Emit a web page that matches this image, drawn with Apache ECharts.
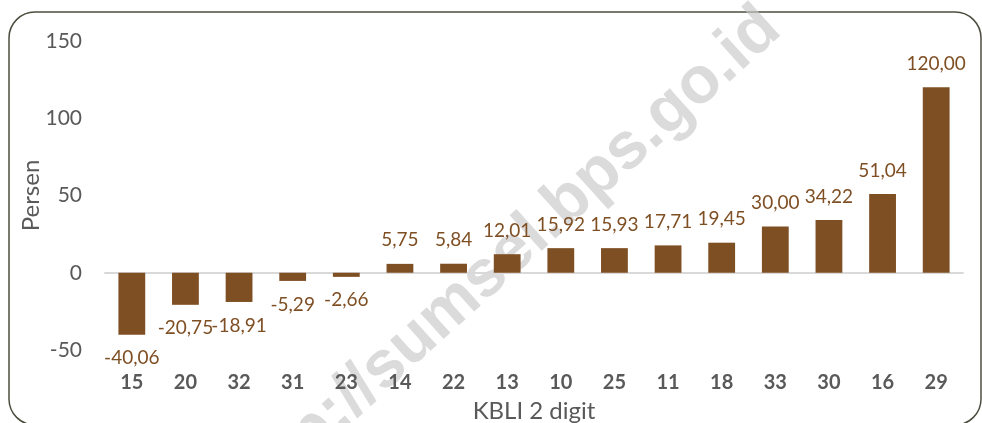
<!DOCTYPE html>
<html><head><meta charset="utf-8">
<script src="https://cdn.jsdelivr.net/npm/echarts@6/dist/echarts.min.js"></script>
<style>html,body{margin:0;padding:0;background:#fff}#c{width:982px;height:423px}</style>
</head><body><div id="c"></div>
<script>
const categories = ['15','20','32','31','23','14','22','13','10','25','11','18','33','30','16','29'];
const values = [-40.06,-20.75,-18.91,-5.29,-2.66,5.75,5.84,12.01,15.92,15.93,17.71,19.45,30.00,34.22,51.04,120.00];
const yTicks = {min:-50, max:150, interval:50};

const BAR = '#7f4f24';
const LBL = '#7f4f24';
const FONT = 'Lato, "Open Sans", sans-serif';

const chart = echarts.init(document.getElementById('c'), null, {renderer:'canvas'});
chart.setOption({
  animation:false,
  backgroundColor:'#fff',
  graphic:[
    {type:'rect', z:-10, shape:{x:9,y:12,width:972,height:413,r:26}, style:{fill:'none', stroke:'#4d4d3f', lineWidth:1.5}},
    {type:'text', z:-5, x:503, y:261, rotation:Math.PI*42/180,
     style:{text:'http://sumsel.bps.go.id', fill:'rgba(200,200,200,0.65)', font:'bold 66px "Liberation Sans", Arial, sans-serif', align:'center', verticalAlign:'middle'}}
  ],
  grid:{left:105, right:19, top:41, bottom:73, containLabel:false, outerBoundsMode:'none'},
  xAxis:[
    {type:'category', data:categories, position:'bottom',
     axisLine:{show:true, onZero:true, lineStyle:{color:'#d9d9d9', width:2}},
     axisTick:{show:false}, axisLabel:{show:false}},
    {type:'category', data:categories, position:'bottom',
     axisLine:{show:false, onZero:false}, axisTick:{show:false},
     axisLabel:{show:true, margin:23, color:'#595959', fontFamily:FONT, fontSize:20, fontWeight:'bold'},
     name:'KBLI 2 digit', nameLocation:'middle', nameGap:49, nameMoveOverlap:false,
     nameTextStyle:{color:'#595959', fontFamily:FONT, fontSize:24}}
  ],
  yAxis:{type:'value', min:yTicks.min, max:yTicks.max, interval:yTicks.interval,
    axisLine:{show:false}, axisTick:{show:false}, splitLine:{show:false},
    axisLabel:{margin:23, color:'#595959', fontFamily:FONT, fontSize:21},
    name:'Persen', nameLocation:'middle', nameGap:62, nameRotate:90, nameMoveOverlap:false,
    nameTextStyle:{color:'#595959', fontFamily:FONT, fontSize:24}},
  series:[{
    type:'bar', xAxisIndex:0, barWidth:'50%',
    itemStyle:{color:BAR},
    data: values.map(v => ({
      value:v,
      label:{show:true, position: v<0 ? 'bottom' : 'top', distance:14,
        color:LBL, fontFamily:FONT, fontSize:19,
        formatter: p => p.value.toFixed(2).replace('.', ',')}
    }))
  }]
});
</script></body></html>
